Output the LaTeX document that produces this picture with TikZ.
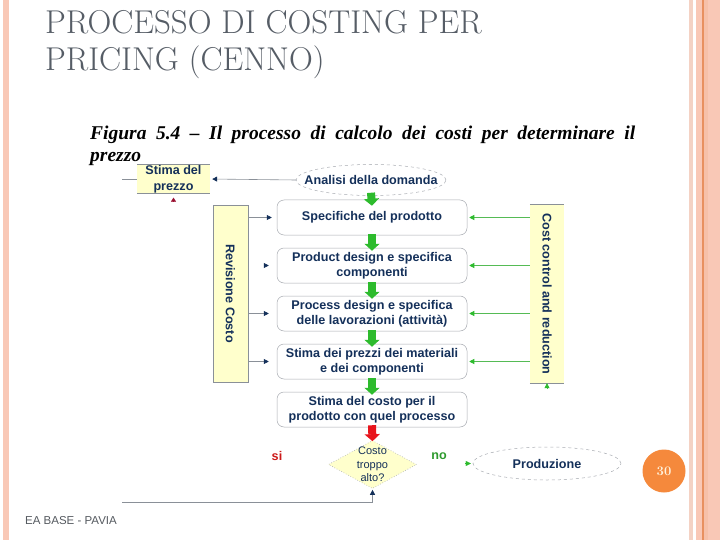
\documentclass[tikz,border=0pt]{standalone}
\usepackage{fontspec}
\newfontfamily\sansf{Liberation Sans}
\newfontfamily\seriff{Liberation Serif}
\usetikzlibrary{shapes.geometric,arrows.meta,calc}
\definecolor{dnavy}{HTML}{14305A}
\definecolor{boxgray}{HTML}{A8ACB2}
\definecolor{lgray}{HTML}{8A9098}
\definecolor{byel}{HTML}{FFFFCC}
\definecolor{bgreen}{HTML}{2DBB2D}
\definecolor{tgreen}{HTML}{55BB55}
\definecolor{bred}{HTML}{E8141C}
\definecolor{darkred}{HTML}{9A1030}
\definecolor{sired}{HTML}{CC1A1A}
\definecolor{nogreen}{HTML}{2E9A2E}
\definecolor{titlegray}{HTML}{565D66}
\definecolor{pgorange}{HTML}{F5893C}
\definecolor{cream}{HTML}{FFF2DC}
\definecolor{stripe}{HTML}{F9C8B6}
\definecolor{stripepale}{HTML}{F4D2C4}
\definecolor{stripeor}{HTML}{E89060}
\definecolor{footgray}{HTML}{555A60}
\tikzset{
  dtext/.style={font=\sansf\bfseries\fontsize{12.6}{15}\selectfont, text=dnavy, align=center, inner sep=0},
  pbox/.style={draw=boxgray, line width=0.5pt, rounded corners=7pt, fill=white,
    minimum width=190pt, minimum height=35pt, inner sep=0, dtext},
  yelbox/.style={fill=byel, inner sep=0},
  gline/.style={draw=lgray, line width=0.6pt},
  navyarr/.style={draw=lgray, line width=0.6pt, -{Triangle[width=5pt,length=5pt,color=dnavy]}},
  greenarr/.style={draw=tgreen, line width=0.6pt, -{Triangle[width=5pt,length=5pt,color=bgreen]}},
  blockg/.style={draw=bgreen, line width=8pt, -{Triangle[width=15pt,length=7pt]}},
  blockr/.style={draw=bred, line width=8pt, -{Triangle[width=15pt,length=7pt]}},
  titletext/.style={anchor=base west, inner sep=0, text=titlegray, font=\fontsize{33}{38}\selectfont},
  captext/.style={anchor=base west, inner sep=0, font=\seriff\bfseries\itshape\fontsize{19.5}{22}\selectfont},
}
\begin{document}
\begin{tikzpicture}[x=1pt,y=-1pt]
\useasboundingbox (0,0) rectangle (720,540);
\fill[white] (0,0) rectangle (720,540);
% border stripes
\fill[stripe] (3,0) rectangle (8.5,540);
\fill[stripepale] (689,0) rectangle (692.5,540);
\fill[stripe] (696,0) rectangle (720,540);
\fill[stripeor] (702,0) rectangle (703.5,540);
\fill[stripe!85!stripeor] (703.5,0) rectangle (708,540);
% title
\node[titletext] (title1) at (45,34) {PROCESSO DI COSTING PER};
\node[titletext] (title2) at (45,71) {PRICING (CENNO)};
% caption
\node[captext] (cap1) at (90,140) {\makebox[545pt][s]{Figura 5.4 – Il processo di calcolo dei costi per determinare il}};
\node[captext] (cap2) at (90,162) {prezzo};
% side boxes
\node[yelbox, draw=lgray, line width=0.6pt, minimum width=35pt, minimum height=177pt] (rev) at (230.5,293.5) {};
\node[dtext, rotate=-90] (revT) at (rev) {Revisione Costo};
\node[yelbox, minimum width=34pt, minimum height=178pt] (cc) at (547,294) {};
\draw[gline] (cc.north west) -- (cc.north east);
\draw[gline] (cc.south west) -- (cc.south east);
\node[dtext, rotate=-90] (ccT) at (cc) {Cost control and reduction};
% stima del prezzo
\node[yelbox, minimum width=73pt, minimum height=29pt] (sp) at (173.5,179) {};
\draw[gline] (sp.north west) -- (sp.north east);
\draw[gline] (sp.south west) -- (sp.south east);
\node[dtext, font=\sansf\bfseries\fontsize{12.6}{16}\selectfont] (spT) at (sp) {Stima del\\prezzo};
% analisi
\node[ellipse, draw=boxgray, dashed, line width=0.5pt, minimum width=150pt, minimum height=31pt, inner sep=0] (ana) at (371,180) {};
\node[dtext] (anaT) at (ana) {Analisi della domanda};
% process boxes
\node[pbox] (spec) at (372,217.5) {Specifiche del prodotto};
\node[pbox] (pd) at (372,265.5) {Product design e specifica\\componenti};
\node[pbox] (proc) at (372,313.5) {Process design e specifica\\delle lavorazioni (attività)};
\node[pbox] (prezzi) at (372,361.5) {Stima dei prezzi dei materiali\\e dei componenti};
\node[pbox] (costo) at (372,409.5) {Stima del costo per il\\prodotto con quel processo};
% decision
\node[diamond, draw=boxgray, dotted, line width=0.6pt, fill=byel, minimum width=88pt, minimum height=48pt, inner sep=0] (dia) at (372.5,464.5) {};
\node[font=\sansf\fontsize{11}{13.5}\selectfont, text=dnavy, align=center, inner sep=0] (diaT) at (dia) {Costo\\troppo\\alto?};
\node[ellipse, draw=boxgray, dashed, line width=0.5pt, minimum width=148pt, minimum height=33pt, inner sep=0] (prod) at (547,463.5) {};
\node[dtext] (prodT) at (prod) {Produzione};
\node[font=\sansf\bfseries\fontsize{12.6}{15}\selectfont, text=sired, inner sep=0] (si) at (277,456) {si};
\node[font=\sansf\bfseries\fontsize{12.6}{15}\selectfont, text=nogreen, inner sep=0] (no) at (439,456) {no};
% block arrows
\draw[blockg] ($(ana.south)+(0,-3)$) -- ($(spec.north)+(0,6)$);
\draw[blockg] ($(spec.south)+(0,-1)$) -- ($(pd.north)+(0,3)$);
\draw[blockg] ($(pd.south)+(0,-1)$) -- ($(proc.north)+(0,3)$);
\draw[blockg] ($(proc.south)+(0,-1)$) -- ($(prezzi.north)+(0,3)$);
\draw[blockg] ($(prezzi.south)+(0,-1)$) -- ($(costo.north)+(0,3)$);
\draw[blockr] ($(costo.south)+(0,-2)$) -- ($(dia.north)+(0,1)$);
% connectors
\draw[navyarr, shorten >=2pt] (ana.west) -- (sp.east);
\coordinate (loopTL) at (122,179);
\draw[gline] (loopTL) -- (sp.west);
\draw[-{Triangle[width=5pt,length=4pt,color=darkred]}, draw=darkred, line width=0.2pt] ($(sp.south)+(0,7)$) -- ($(sp.south)+(0,4)$);
\draw[navyarr, shorten >=5pt] (rev.east |- spec.west) -- (spec.west);
\draw[navyarr, shorten >=8pt] ($(pd.west)+(-13,0)$) -- (pd.west);
\draw[navyarr, shorten >=8pt] (rev.east |- proc.west) -- (proc.west);
\draw[navyarr, shorten >=8pt] (rev.east |- prezzi.west) -- (prezzi.west);
\draw[greenarr, shorten >=2pt] (cc.west |- spec.east) -- (spec.east);
\draw[greenarr, shorten >=2pt] (cc.west |- pd.east) -- (pd.east);
\draw[greenarr, shorten >=2pt] (cc.west |- proc.east) -- (proc.east);
\draw[greenarr, shorten >=2pt] (cc.west |- prezzi.east) -- (prezzi.east);
\draw[greenarr] ($(cc.south)+(0,6)$) -- (cc.south);
\draw[-{Triangle[width=5pt,length=5pt,color=bgreen]}, draw=bgreen, line width=0.2pt, shorten >=2pt] ($(prod.west)+(-8,0)$) -- (prod.west);
\coordinate (loopBL) at (122,502);
\draw[navyarr, shorten >=1pt] (loopBL) -- (dia.south |- loopBL) -- (dia.south);
% page number and footer
\node[circle, fill=pgorange, minimum size=43pt, inner sep=0, text=cream, font=\bfseries\fontsize{13}{13}\selectfont] (pg) at (664,471) {30};
\node[anchor=base west, inner sep=0, text=footgray, font=\sansf\fontsize{11.5}{13}\selectfont] (foot) at (25,524) {EA BASE - PAVIA};
\end{tikzpicture}
\end{document}
